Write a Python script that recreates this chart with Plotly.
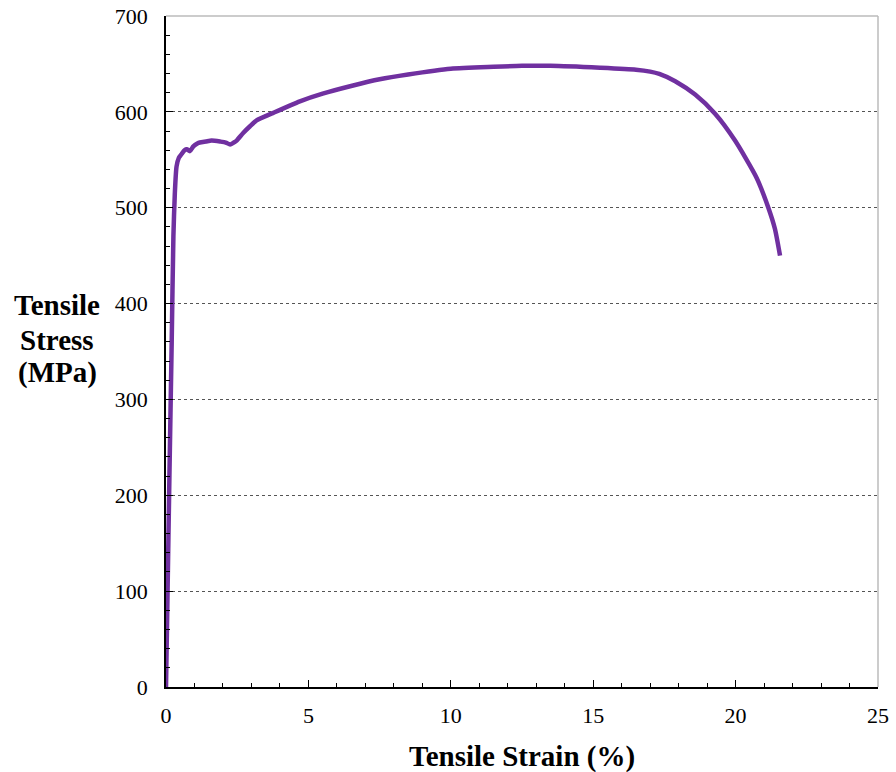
import plotly.graph_objects as go

strain = [0.0, 0.05, 0.12, 0.2, 0.26, 0.31, 0.37, 0.45, 0.55, 0.65, 0.73, 0.84, 0.96, 1.1, 1.19, 1.4, 1.6, 1.9, 2.1, 2.25, 2.38, 2.48, 2.71, 2.95, 3.18, 3.77, 4.7, 5.5, 6.5, 7.5, 8.5, 10.0, 11.5, 12.5, 13.5, 15.24, 16.5, 17.0, 17.32, 17.88, 18.58, 19.28, 19.98, 20.74, 21.15, 21.38, 21.56]
stress = [0, 90, 220, 360, 470, 515, 543, 552, 556, 560, 561, 559, 564, 567, 568, 569, 570, 569, 568, 566, 568, 570, 578, 585, 591, 599, 611, 619, 627, 634, 639, 645, 647, 648, 648, 646, 644, 642, 639.6, 632, 618, 598, 570, 531, 500, 478, 450]

x_ticks = [0, 5, 10, 15, 20, 25]
y_ticks = [0, 100, 200, 300, 400, 500, 600, 700]

x_title = "Tensile Strain (%)"
y_title_lines = ["Tensile", "Stress", "(MPa)"]

font_family = "Liberation Serif"

fig = go.Figure()
fig.add_trace(go.Scatter(
    x=strain, y=stress, mode="lines",
    line=dict(color="#7030A0", width=4.5, shape="spline", smoothing=0.6),
    showlegend=False, hoverinfo="skip",
))

fig.update_layout(
    width=896, height=772,
    margin=dict(l=166, r=18, t=16, b=85, autoexpand=False),
    paper_bgcolor="white", plot_bgcolor="white",
    font=dict(family=font_family, size=22, color="black"),
    xaxis=dict(
        range=[0, 25], tickvals=x_ticks, ticks="inside", ticklen=7, tickwidth=1.2,
        tickcolor="black", showline=True, linecolor="black", linewidth=1.5,
        showgrid=False, zeroline=False, ticklabelstandoff=8, ticklabeloverflow="allow",
        automargin=False,
        minor=dict(dtick=1, ticks="inside", ticklen=4, tickcolor="black", tickwidth=1),
        tickfont=dict(size=22, family=font_family),
    ),
    yaxis=dict(
        range=[0, 700], tickvals=y_ticks, ticks="inside", ticklen=7, tickwidth=1.2,
        tickcolor="black", showline=True, linecolor="black", linewidth=1.5,
        showgrid=True, gridcolor="#555555", griddash="dot", gridwidth=1,
        zeroline=False, ticklabelstandoff=12, ticklabeloverflow="allow",
        automargin=False,
        minor=dict(dtick=20, ticks="inside", ticklen=4, tickcolor="black", tickwidth=1, showgrid=False),
        tickfont=dict(size=22, family=font_family),
    ),
)

# light grey frame on top and right
fig.add_shape(type="line", xref="paper", yref="paper", x0=0, x1=1, y0=1, y1=1,
              line=dict(color="#BBBBBB", width=1.5))
fig.add_shape(type="line", xref="paper", yref="paper", x0=1, x1=1, y0=0, y1=1,
              line=dict(color="#BBBBBB", width=1.5))

fig.add_annotation(
    text="<b>" + x_title + "</b>", xref="paper", yref="paper",
    x=0.5, y=-0.104, xanchor="center", yanchor="middle", showarrow=False,
    font=dict(size=29, family=font_family, color="black"),
)
for line_text, ypos in zip(y_title_lines, [0.569, 0.517, 0.469]):
    fig.add_annotation(
        text="<b>" + line_text + "</b>", xref="paper", yref="paper",
        x=-0.153, y=ypos, xanchor="center", yanchor="middle", showarrow=False,
        font=dict(size=29, family=font_family, color="black"),
    )

fig.write_html("out.html", config={"displayModeBar": False},
               post_script="document.body.style.margin='0';")
